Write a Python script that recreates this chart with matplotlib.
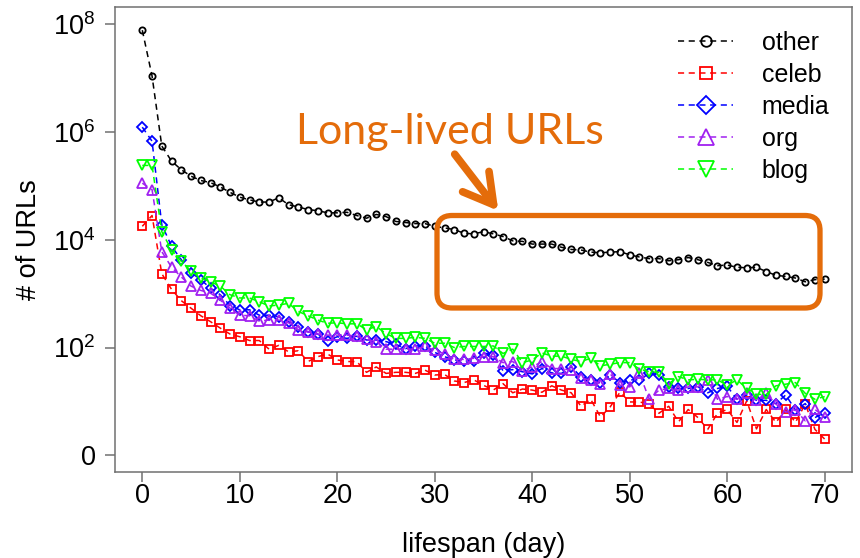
import matplotlib.pyplot as plt
from matplotlib.patches import FancyBboxPatch, FancyArrowPatch
import numpy as np

plt.rcParams['font.family'] = ['Liberation Sans', 'DejaVu Sans']
plt.rcParams['mathtext.fontset'] = 'custom'
plt.rcParams['mathtext.rm'] = 'Liberation Sans'
plt.rcParams['mathtext.default'] = 'rm'

dias = list(range(71))

other_log = [7.89, 7.04, 5.74, 5.46, 5.30, 5.18, 5.10, 5.06, 4.98, 4.88,
             4.79, 4.74, 4.70, 4.70, 4.78, 4.65, 4.61, 4.56, 4.54, 4.50,
             4.50, 4.51, 4.45, 4.40, 4.47, 4.43, 4.34, 4.32, 4.30, 4.30,
             4.25, 4.22, 4.19, 4.12, 4.11, 4.15, 4.11, 4.06, 3.98, 3.97,
             3.92, 3.92, 3.92, 3.86, 3.82, 3.81, 3.77, 3.76, 3.77, 3.78,
             3.72, 3.68, 3.65, 3.65, 3.61, 3.63, 3.67, 3.63, 3.58, 3.52,
             3.53, 3.49, 3.48, 3.49, 3.41, 3.34, 3.32, 3.29, 3.22, 3.26, 3.27]

celeb_log = [4.25, 4.45, 3.37, 3.08, 2.87, 2.73, 2.59, 2.48, 2.36, 2.25,
             2.20, 2.13, 2.13, 1.97, 2.04, 1.92, 1.94, 1.74, 1.83, 1.88,
             1.77, 1.74, 1.74, 1.54, 1.64, 1.52, 1.54, 1.54, 1.52, 1.58,
             1.49, 1.50, 1.38, 1.35, 1.40, 1.30, 1.21, 1.33, 1.16, 1.23,
             1.21, 1.17, 1.29, 1.21, 1.16, 0.91, 1.04, 0.71, 0.90, 1.17,
             0.99, 0.99, 0.95, 0.78, 0.91, 0.62, 0.85, 0.70, 0.48, 0.78,
             0.85, 0.61, 1.01, 0.49, 0.85, 0.61, 0.85, 0.61, 0.95, 0.48, 0.30]

media_log = [6.09, 5.83, 4.28, 3.88, 3.63, 3.39, 3.26, 3.10, 2.98, 2.78,
             2.70, 2.70, 2.60, 2.60, 2.57, 2.48, 2.39, 2.29, 2.25, 2.13,
             2.20, 2.17, 2.21, 2.14, 2.14, 2.11, 2.06, 1.98, 2.03, 2.03,
             1.91, 1.83, 1.77, 1.75, 1.75, 1.90, 1.86, 1.57, 1.59, 1.55,
             1.51, 1.61, 1.53, 1.52, 1.64, 1.46, 1.40, 1.35, 1.49, 1.35,
             1.40, 1.40, 1.52, 1.49, 1.27, 1.24, 1.24, 1.27, 1.16, 1.24,
             1.28, 1.04, 1.12, 1.02, 1.02, 0.96, 1.12, 0.84, 0.96, 0.70, 0.79]

org_log = [5.05, 4.93, 3.78, 3.49, 3.31, 3.14, 3.06, 3.01, 2.88, 2.73,
           2.60, 2.59, 2.49, 2.51, 2.51, 2.46, 2.33, 2.29, 2.25, 2.23,
           2.23, 2.23, 2.21, 2.15, 2.11, 1.97, 1.97, 1.97, 1.97, 2.02,
           1.95, 1.88, 1.78, 1.78, 1.80, 1.83, 1.83, 1.72, 1.74, 1.57,
           1.64, 1.74, 1.61, 1.61, 1.58, 1.43, 1.40, 1.33, 1.51, 1.30,
           1.27, 1.52, 1.04, 1.21, 1.24, 1.21, 1.27, 1.27, 1.40, 1.04,
           1.09, 1.04, 1.15, 1.02, 1.15, 0.95, 0.80, 0.84, 0.64, 0.85, 0.71]

blog_log = [5.38, 5.38, 4.15, 3.81, 3.60, 3.42, 3.29, 3.22, 3.14, 2.98,
            2.92, 2.92, 2.85, 2.77, 2.79, 2.82, 2.67, 2.59, 2.51, 2.45,
            2.46, 2.44, 2.44, 2.33, 2.39, 2.26, 2.17, 2.17, 2.19, 2.17,
            2.08, 2.08, 2.00, 2.02, 2.02, 2.02, 2.03, 1.89, 1.97, 1.72,
            1.77, 1.90, 1.84, 1.84, 1.78, 1.74, 1.80, 1.66, 1.69, 1.72,
            1.72, 1.60, 1.55, 1.54, 1.33, 1.46, 1.40, 1.41, 1.40, 1.40,
            1.30, 1.40, 1.24, 1.13, 1.13, 1.29, 1.32, 1.35, 1.15, 1.04, 1.09]

nombres = ['other', 'celeb', 'media', 'org', 'blog']
valores = [other_log, celeb_log, media_log, org_log, blog_log]
colores = ['black', '#FF0000', '#0000FF', '#A020F0', '#00FF00']
marcadores = ['o', 's', 'D', '^', 'v']
tamanos = [4.5, 5.5, 5.5, 7, 7]

yticks = [1, 1e2, 1e4, 1e6, 1e8]
yticklabels = ['0', r'$10^2$', r'$10^4$', r'$10^6$', r'$10^8$']
naranja = '#E46C0A'
gris = '#707070'

fig = plt.figure(figsize=(8.6, 5.58), dpi=100)
ax = fig.add_axes([115/860, 1 - 472/558, 737/860, 465/558])

for i in range(len(nombres)):
    ax.plot(dias, 10**np.array(valores[i]), linestyle=(0, (4, 3)), lw=1.1,
            color=colores[i], marker=marcadores[i], markersize=tamanos[i],
            markerfacecolor='none', markeredgewidth=1.3, label=nombres[i])

ax.set_yscale('log')
ax.set_xlim(-2.8, 72.8)
ax.set_ylim(10**-0.31, 10**8.32)
ax.set_yticks(yticks)
ax.set_yticklabels(yticklabels)
ax.minorticks_off()
ax.set_xticks(range(0, 71, 10))
ax.tick_params(axis='both', length=7, width=1.1, color=gris, labelsize=19.5)
ax.tick_params(axis='y', pad=7)
ax.tick_params(axis='x', pad=1)
for s in ax.spines.values():
    s.set_color(gris)
    s.set_linewidth(1.1)

ax.set_xlabel('lifespan (day)', fontsize=19.5)
ax.set_ylabel('# of URLs', fontsize=19.5)
ax.xaxis.set_label_coords(0.5, -(545 - 472) / 465)
ax.yaxis.set_label_coords(-(115 - 29) / 737, 0.5)
ax.xaxis.label.set_va('center')
ax.yaxis.label.set_va('center')

ax.legend(loc='upper left', bbox_to_anchor=(678/860, 1 - 31/558),
          bbox_transform=fig.transFigure, frameon=False, fontsize=18,
          handlelength=2.2, handletextpad=1.15, labelspacing=0.32,
          borderpad=0, borderaxespad=0, markerscale=1.7)

# anotacion
fig.text(450/860, 1 - 132/558, 'Long-lived URLs', ha='center', va='center',
         fontsize=31, color=naranja, family=['Lato', 'DejaVu Sans'])
flecha = FancyArrowPatch(posA=(4.53, 5.58 - 1.52), posB=(5.00, 5.58 - 2.13),
                         arrowstyle='->,head_length=1.05,head_width=0.6',
                         mutation_scale=20, lw=5.5, color=naranja,
                         transform=fig.dpi_scale_trans)
fig.add_artist(flecha)
caja = FancyBboxPatch((4.37, 5.58 - 3.08), 3.83, 0.925,
                      boxstyle='round,pad=0,rounding_size=0.15',
                      transform=fig.dpi_scale_trans, fill=False,
                      edgecolor=naranja, lw=3.8)
fig.add_artist(caja)

plt.savefig('out.png', dpi=100)
plt.close()
